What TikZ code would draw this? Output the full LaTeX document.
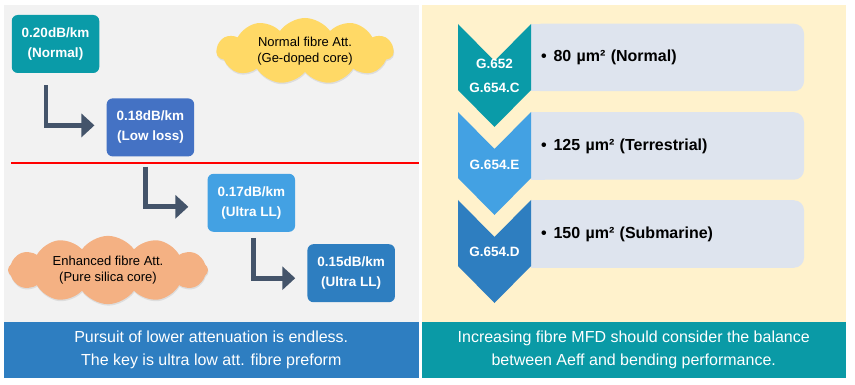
\documentclass[tikz,border=0pt]{standalone}
\usepackage{fontspec}
\setmainfont{Liberation Sans}
\usetikzlibrary{arrows.meta,positioning,shapes.symbols,shadows}
\definecolor{panelgray}{HTML}{F2F2F2}
\definecolor{panelcream}{HTML}{FFF2CC}
\definecolor{barblue}{HTML}{2E7EC1}
\definecolor{barteal}{HTML}{0A9AA6}
\definecolor{teal}{HTML}{0A9BA8}
\definecolor{royal}{HTML}{4472C4}
\definecolor{sky}{HTML}{43A1E3}
\definecolor{steel}{HTML}{2E7EC0}
\definecolor{slate}{HTML}{44546A}
\definecolor{cutred}{HTML}{FF0000}
\definecolor{cloudyellow}{HTML}{FFD966}
\definecolor{cloudorange}{HTML}{F4B183}
\definecolor{itemgray}{HTML}{DEE4EE}
\tikzset{
  rate/.style={fill=#1, text=white, rounded corners=6pt, minimum width=87.5pt,
               minimum height=58pt, align=center, inner sep=2pt,
               font=\fontsize{13.5}{20}\selectfont\bfseries},
  remark/.style={cloud, cloud puffs=11, cloud puff arc=110, fill=#1,
                 inner sep=0pt, align=center, font=\fontsize{13}{16}\selectfont,
                 drop shadow={opacity=.18, shadow xshift=.5pt, shadow yshift=-1.5pt}},
  elbow/.style={-{Triangle[length=13pt,width=23pt]}, line width=4.7pt, draw=slate},
  bar/.style={fill=#1, text=white, minimum height=56pt, align=center, inner sep=0pt,
              font=\fontsize{16}{23}\selectfont},
  item/.style={fill=itemgray, rounded corners=10pt, minimum width=273pt,
               minimum height=67.5pt, text width=253pt, align=left, inner xsep=10pt,
               font=\fontsize{16}{20}\selectfont\bfseries},
  tag/.style={text=white, align=center, inner sep=0pt,
              font=\fontsize{13.5}{24}\selectfont\bfseries}
}
\begin{document}
\begin{tikzpicture}[x=1pt, y=-1pt]
  \useasboundingbox (0,0) rectangle (855,385);
  % two panels
  \fill[panelgray] (4,5) rectangle (418.5,322);
  \fill[panelcream] (421.5,5) rectangle (846,322);
  \draw[cutred, line width=2pt] (11,163) -- (418.5,163);

  % left: attenuation steps
  \node[rate=teal] (box1) at (55.5,44) {0.20dB/km\\(Normal)};
  \node[rate=royal, below right=25pt and 7pt of box1] (box2) {0.18dB/km\\(Low loss)};
  \node[rate=sky, below right=17pt and 13pt of box2] (box3) {0.17dB/km\\(Ultra LL)};
  \node[rate=steel, below right=12pt and 12pt of box3] (box4) {0.15dB/km\\(Ultra LL)};

  \draw[elbow] ([xshift=-9.5pt,yshift=-12pt]box1.south) |- ([xshift=-12pt,yshift=2pt]box2.west);
  \draw[elbow] ([xshift=-5pt,yshift=-10pt]box2.south) |- ([xshift=-19pt,yshift=-4pt]box3.west);
  \draw[elbow] ([xshift=2pt,yshift=-6pt]box3.south) |- ([xshift=-12pt,yshift=-5pt]box4.west);

  \node[remark=cloudyellow, aspect=2.8, minimum width=177pt, minimum height=62pt]
        (normal) at (305,51) {Normal fibre Att.\\(Ge-doped core)};
  \node[remark=cloudorange, cloud puffs=12, aspect=3.2, minimum width=200pt, minimum height=63pt]
        (enhanced) at (108,270) {Enhanced fibre Att.\\(Pure silica core)};

  \node[bar=barblue, minimum width=414.5pt] (leftbar) at (211.25,350)
       {Pursuit of lower attenuation is endless.\\The key is ultra low att. fibre preform};

  % right: effective area per fibre type
  \foreach \y/\txt [count=\i] in {57.5/80 µm² (Normal), 146/125 µm² (Terrestrial),
                                  234/150 µm² (Submarine)} {
    \fill[itemgray] (531,\y-33.75) rectangle (545,\y+33.75);
    \node[item] (item\i) at (667.5,\y) {\textbullet\hspace{7pt}\txt};
  }
  \foreach \t/\c in {24/teal, 112/sky, 200/steel}
    \fill[\c] (458,\t) -- (494.5,\t+37) -- (531,\t) -- (531,\t+66)
              -- (494.5,\t+103) -- (458,\t+66) -- cycle;
  \node[tag] (g652) at (494.5,76) {G.652\\G.654.C};
  \node[tag] (g654e) at (494.5,165) {G.654.E};
  \node[tag] (g654d) at (494.5,252) {G.654.D};

  \node[bar=barteal, minimum width=424.5pt] (rightbar) at (633.75,350)
       {Increasing fibre MFD should consider the balance\\between Aeff and bending performance.};
\end{tikzpicture}
\end{document}
